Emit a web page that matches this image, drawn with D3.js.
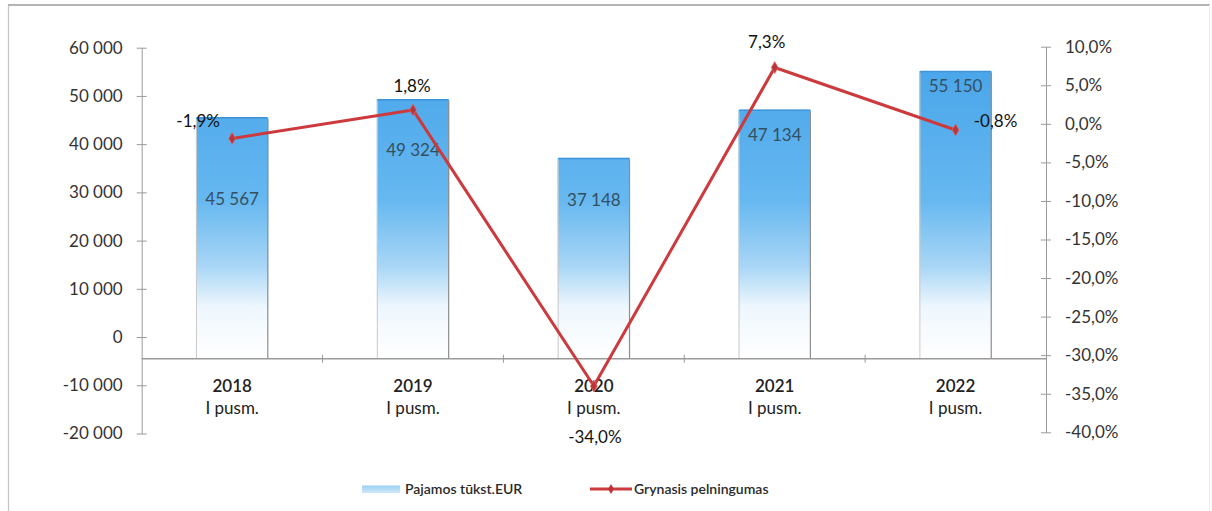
<!DOCTYPE html>
<html>
<head>
<meta charset="utf-8">
<script src="https://cdn.jsdelivr.net/npm/d3@7"></script>
<style>
  html, body { margin: 0; padding: 0; background: #ffffff; }
  svg { display: block; font-family: Lato, "Open Sans", sans-serif; }
</style>
</head>
<body>
<svg id="chart" width="1212" height="511"></svg>
<script>
// ---- data ----
const years = ["2018", "2019", "2020", "2021", "2022"];
const periodLabel = "I pusm.";
const revenue = [45567, 49324, 37148, 47134, 55150];           // Pajamos tūkst.EUR
const netMargin = [-1.9, 1.8, -34.0, 7.3, -0.8];              // Grynasis pelningumas, %
const leftTicks = [-20000, -10000, 0, 10000, 20000, 30000, 40000, 50000, 60000];
const rightTicks = [-40, -35, -30, -25, -20, -15, -10, -5, 0, 5, 10];
const seriesNames = ["Pajamos tūkst.EUR", "Grynasis pelningumas"];
const categoryAxisCross = -4500; // value where category axis crosses the left axis

// ---- styling / layout (not data) ----
const plot = { left: 141.7, right: 1046, top: 47.7, bottom: 433.5 };
const rightRange = [432.3, 46.7];
const barLabelDrop = [82, 51, 42, 25, 15];
const pctLabelOffset = [[-34, -17], [-1, -24], [1, 51], [-8, -25], [40, -9]];
const axisColor = "#9a9a9a";
const textColor = "#333333";
const lineColor = "#cc3a3d";

const svg = d3.select("#chart");
const fmtNum = v => d3.format(",.0f")(v).replace(/,/g, "\u00a0").replace("\u2212", "-");
const fmtPct = v => d3.format(".1f")(v).replace(".", ",").replace("\u2212", "-") + "%";

// border (left, top, faint right)
svg.append("line").attr("x1", 8.5).attr("x2", 8.5).attr("y1", 5).attr("y2", 511)
  .attr("stroke", "#c4c4c4").attr("stroke-width", 1.2);
svg.append("line").attr("x1", 8).attr("x2", 1210).attr("y1", 5).attr("y2", 5)
  .attr("stroke", "#b4b4b4").attr("stroke-width", 2);
svg.append("line").attr("x1", 1209.5).attr("x2", 1209.5).attr("y1", 5).attr("y2", 511)
  .attr("stroke", "#ececec").attr("stroke-width", 1);

// scales
const x = d3.scaleBand().domain(years).range([plot.left, plot.right])
  .paddingInner(0.6).paddingOuter(0.3);
const yL = d3.scaleLinear().domain([-20000, 60000]).range([plot.bottom, plot.top]);
const yR = d3.scaleLinear().domain([-40, 10]).range(rightRange);

// gradient for bars
const defs = svg.append("defs");
const grad = defs.append("linearGradient").attr("id", "barGrad")
  .attr("gradientUnits", "userSpaceOnUse")
  .attr("x1", 0).attr("x2", 0).attr("y1", yL(55150)).attr("y2", yL(categoryAxisCross));
grad.append("stop").attr("offset", "0%").attr("stop-color", "#4aa6ea");
grad.append("stop").attr("offset", "45%").attr("stop-color", "#66b8f0");
grad.append("stop").attr("offset", "68%").attr("stop-color", "#a9d6f6");
grad.append("stop").attr("offset", "82%").attr("stop-color", "#eef7fd");
grad.append("stop").attr("offset", "100%").attr("stop-color", "#ffffff");

const legGrad = defs.append("linearGradient").attr("id", "legGrad")
  .attr("x1", 0).attr("x2", 0).attr("y1", 0).attr("y2", 1);
legGrad.append("stop").attr("offset", "0%").attr("stop-color", "#9ccff3");
legGrad.append("stop").attr("offset", "100%").attr("stop-color", "#cfe8fa");

// bars
const bars = svg.append("g");
bars.selectAll("rect.bar").data(revenue).join("rect").attr("class", "bar")
  .attr("x", (d, i) => x(years[i]))
  .attr("y", d => yL(d))
  .attr("width", x.bandwidth())
  .attr("height", d => yL(categoryAxisCross) - yL(d))
  .attr("fill", "url(#barGrad)");
bars.selectAll("line.lside").data(revenue).join("line").attr("class", "lside")
  .attr("x1", (d, i) => x(years[i]) + 0.5).attr("x2", (d, i) => x(years[i]) + 0.5)
  .attr("y1", d => yL(d) + 2).attr("y2", yL(categoryAxisCross))
  .attr("stroke", "#c9c9c9").attr("stroke-width", 1);
bars.selectAll("line.rside").data(revenue).join("line").attr("class", "rside")
  .attr("x1", (d, i) => x(years[i]) + x.bandwidth() - 0.5).attr("x2", (d, i) => x(years[i]) + x.bandwidth() - 0.5)
  .attr("y1", d => yL(d) + 2).attr("y2", yL(categoryAxisCross))
  .attr("stroke", "#8e8e8e").attr("stroke-width", 1.2);
bars.selectAll("line.top").data(revenue).join("line").attr("class", "top")
  .attr("x1", (d, i) => x(years[i]) + 1).attr("x2", (d, i) => x(years[i]) + x.bandwidth() - 1)
  .attr("y1", d => yL(d) + 0.5).attr("y2", d => yL(d) + 0.5)
  .attr("stroke", "#3d93d6").attr("stroke-width", 1.5);

// bar value labels
svg.append("g").selectAll("text").data(revenue).join("text")
  .attr("x", (d, i) => x(years[i]) + x.bandwidth() / 2)
  .attr("y", (d, i) => yL(d) + barLabelDrop[i])
  .attr("dy", "0.35em").attr("text-anchor", "middle")
  .attr("font-size", 17).attr("fill", "#34505f")
  .text(d => fmtNum(d));

// left axis
const leftAxis = svg.append("g").attr("transform", `translate(${plot.left},0)`)
  .call(d3.axisLeft(yL).tickValues(leftTicks).tickFormat(fmtNum).tickSize(5).tickSizeOuter(0).tickPadding(14));
leftAxis.select(".domain").attr("stroke", axisColor);
leftAxis.selectAll(".tick line").attr("stroke", axisColor).attr("x2", 5).attr("x1", -5);
leftAxis.selectAll(".tick text").attr("font-size", 17).attr("fill", textColor)
  .attr("font-family", "Lato, 'Open Sans', sans-serif");

// right axis
const rightAxis = svg.append("g").attr("transform", `translate(${plot.right},0)`)
  .call(d3.axisRight(yR).tickValues(rightTicks).tickFormat(fmtPct).tickSize(5).tickSizeOuter(0).tickPadding(14));
rightAxis.select(".domain").attr("stroke", axisColor);
rightAxis.selectAll(".tick line").attr("stroke", axisColor).attr("x1", -5).attr("x2", 5);
rightAxis.selectAll(".tick text").attr("font-size", 17).attr("fill", textColor)
  .attr("font-family", "Lato, 'Open Sans', sans-serif");

// category axis
const catY = yL(categoryAxisCross);
svg.append("line").attr("x1", plot.left).attr("x2", plot.right).attr("y1", catY).attr("y2", catY)
  .attr("stroke", axisColor).attr("stroke-width", 1.3);
const boundaries = years.slice(1).map(c => x(c) - x.step() * x.paddingInner() / 2);
svg.append("g").selectAll("line").data(boundaries).join("line")
  .attr("x1", d => d).attr("x2", d => d).attr("y1", catY - 4).attr("y2", catY + 4)
  .attr("stroke", axisColor);
const catLabels = svg.append("g").selectAll("g").data(years).join("g")
  .attr("transform", d => `translate(${x(d) + x.bandwidth() / 2},0)`);
catLabels.append("text").attr("y", catY + 33).attr("text-anchor", "middle")
  .attr("font-size", 17).attr("font-weight", 600).attr("fill", "#222").text(d => d);
catLabels.append("text").attr("y", catY + 55).attr("text-anchor", "middle")
  .attr("font-size", 17).attr("fill", "#222").text(periodLabel);

// line series
const pts = netMargin.map((v, i) => [x(years[i]) + x.bandwidth() / 2, yR(v)]);
svg.append("path").attr("d", d3.line()(pts))
  .attr("fill", "none").attr("stroke", lineColor).attr("stroke-width", 3)
  .attr("stroke-linejoin", "round");
svg.append("g").selectAll("path").data(pts).join("path")
  .attr("transform", d => `translate(${d[0]},${d[1]})`)
  .attr("d", d3.symbol(d3.symbolDiamond, 40)())
  .attr("fill", "#b8353a").attr("stroke", "#d9666a").attr("stroke-width", 0.8);

// percentage labels
svg.append("g").selectAll("text").data(netMargin).join("text")
  .attr("x", (d, i) => pts[i][0] + pctLabelOffset[i][0])
  .attr("y", (d, i) => pts[i][1] + pctLabelOffset[i][1])
  .attr("dy", "0.35em").attr("text-anchor", "middle")
  .attr("font-size", 17).attr("fill", "#111")
  .text(d => fmtPct(d));

// legend
const leg = svg.append("g");
leg.append("rect").attr("x", 362).attr("y", 485.5).attr("width", 38).attr("height", 7.5)
  .attr("fill", "url(#legGrad)");
leg.append("text").attr("x", 405).attr("y", 494).attr("font-size", 14).attr("font-weight", 600)
  .attr("fill", "#2a2a2a").text(seriesNames[0]);
leg.append("line").attr("x1", 590).attr("x2", 632).attr("y1", 489).attr("y2", 489)
  .attr("stroke", lineColor).attr("stroke-width", 3);
leg.append("path").attr("transform", "translate(611,489)")
  .attr("d", d3.symbol(d3.symbolDiamond, 30)()).attr("fill", "#b8353a");
leg.append("text").attr("x", 634).attr("y", 494).attr("font-size", 14).attr("font-weight", 600)
  .attr("fill", "#2a2a2a").text(seriesNames[1]);
</script>
</body>
</html>
